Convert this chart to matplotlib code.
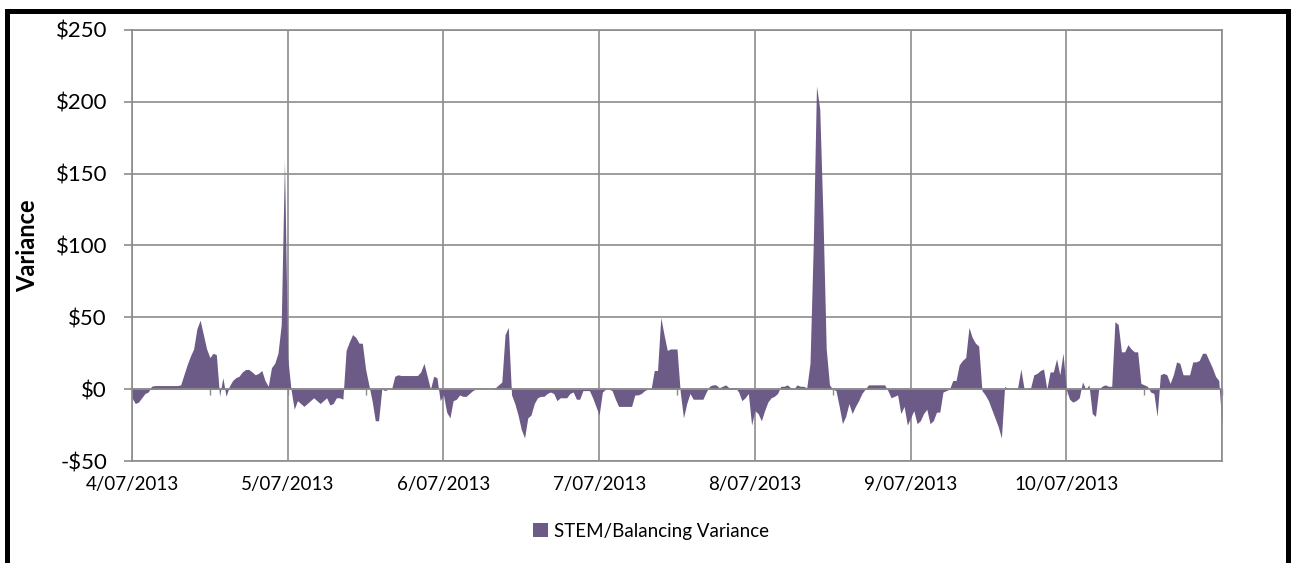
import numpy as np
import pandas as pd
import matplotlib
matplotlib.use("Agg")
import matplotlib.pyplot as plt
import matplotlib.dates as mdates
from matplotlib.ticker import FuncFormatter, MultipleLocator
from matplotlib.patches import Rectangle

plt.rcParams["font.family"] = ["Lato", "DejaVu Sans"]

# half-hourly variance ($), one list per day
day_0407 = [-6, -10, -9, -6, -3, -2, 2, 2.5, 2.5, 2.5, 2.5, 2.5, 2.5, 2.5, 2.5, 3,
            10, 17, 23, 28, 42, 48, 38, 28, 22, 25, 24, -5, 8, -5, 2, 6,
            8, 9, 12, 13.7, 13.7, 12, 10, 11, 13, 6, 2, 15, 18, 25, 45, 159]
day_0507 = [22, 0, -14, -8, -10, -12, -10, -8, -6, -8, -10, -8, -6, -11, -10, -6,
            -6, -7, 27, 33, 38, 36, 32, 32, 14, 3, -8, -22, -22, 0, -1, 0,
            0, 9, 10, 9.5, 9.5, 9.5, 9.5, 9.5, 9.5, 12, 18, 9, 0, 9, 8, -8]
day_0607 = [-4, -16, -20, -8, -7, -4, -5, -5, -3, -1, 0, 0, 0, 0, 0, 0,
            1, 3, 5, 38, 43, -4, -10, -18, -28, -34, -20, -18, -10, -6, -5, -5,
            -3, -2, -3, -8, -6, -6, -6, -3, -2, -7, -7, -1, -1, -1, -6, -12]
day_0707 = [-18, -2, 0, 0, -1, -7, -12, -12, -12, -12, -12, -4, -4, -3, -1, 0,
            0, 13, 13, 50, 38, 27, 28, 28, 28, -2, -20, -10, -3, -7, -7, -7,
            -7, -2, 2, 3, 3, 1, 2, 3, 1, 1, 1, -2, -8, -6, -3, -25]
day_0807 = [-15, -17, -22, -15, -9, -6, -5, -3, 2, 2, 3, 1, 0, 3, 2, 2,
            1, 18, 100, 211, 195, 120, 28, 3, 0, -1, -12, -24, -19, -10, -17, -12,
            -8, -3, 0, 3, 3, 3, 3, 3, 3, -1, -6, -5, -4, -17, -12, -25]
day_0907 = [-20, -15, -24, -22, -17, -14, -24, -22, -16, -16, -2, -1, 0, 6, 6, 17,
            20, 22, 43, 36, 32, 30, -1, -4, -8, -14, -20, -26, -34, 2, 0, 0,
            0, 1, 14, 0, 0, 1, 10, 11, 13, 14, 0, 12, 12, 21, 10, 25]
day_1007 = [0, -7, -9, -8, -6, 5, 0, 3, -17, -19, 0, 2, 3, 2, 2, 47,
            45, 26, 26, 31, 28, 26, 26, 4, 3, 2, -2, -3, -19, 10, 11, 10,
            4, 10, 19, 18, 10, 10, 10, 19, 19, 20, 25, 25, 20, 15, 9, 6]
last_value = [-26]

values = np.array(day_0407 + day_0507 + day_0607 + day_0707 + day_0807
                  + day_0907 + day_1007 + last_value, dtype=float)
times = pd.date_range("2013-07-04", periods=len(values), freq="30min")

FILL = "#6C5B87"
GRID = "#8C8C8C"

fig = plt.figure(figsize=(12.93, 5.63), dpi=100)
ax = fig.add_axes([132 / 1293, 1 - 461 / 563, 1090 / 1293, 431 / 563])

ax.fill_between(times, values, 0, color=FILL, linewidth=0, zorder=2,
                label="STEM/Balancing Variance")

ax.set_xlim(times[0], times[-1])
ax.set_ylim(-50, 250)
ax.yaxis.set_major_locator(MultipleLocator(50))
ax.yaxis.set_major_formatter(FuncFormatter(
    lambda v, _: f"-${abs(v):.0f}" if v < 0 else f"${v:.0f}"))

ax.set_axisbelow(True)
ax.grid(True, color=GRID, linewidth=1.2)

# horizontal axis crosses at $0, with small tick marks
ax.spines["bottom"].set_position(("data", 0))
ax.xaxis.set_major_locator(mdates.DayLocator())
ax.xaxis.set_minor_locator(mdates.HourLocator(byhour=[12]))
ax.tick_params(axis="x", which="both", direction="out", length=4,
               width=1.0, color=GRID, labelbottom=False)
for side in ["left", "right", "top", "bottom"]:
    ax.spines[side].set_color(GRID)
    ax.spines[side].set_linewidth(1.2)
    ax.spines[side].set_zorder(3)

ax.tick_params(axis="y", length=6, width=1.2, color=GRID, pad=12,
               labelsize=16)

# date labels along the bottom of the plot
sec = ax.secondary_xaxis(0.0)
sec.set_xticks(pd.date_range("2013-07-04", "2013-07-10", freq="D"))
sec.xaxis.set_major_formatter(mdates.DateFormatter("%-d/%m/%Y"))
sec.tick_params(length=0, pad=11, labelsize=13.5)
sec.spines["bottom"].set_color(GRID)
sec.spines["bottom"].set_linewidth(1.2)

ax.set_ylabel("Variance", fontsize=17, fontweight="bold", labelpad=12)

fig.legend(loc="center", bbox_to_anchor=(651 / 1293, 1 - 531 / 563),
           frameon=False, fontsize=13.5, handlelength=0.8, handleheight=0.8,
           handletextpad=0.35)

fig.add_artist(Rectangle((6.7 / 1293, -0.2), (1287.5 - 6.7) / 1293,
                         1.2 - 10.8 / 563, transform=fig.transFigure,
                         fill=False, edgecolor="black", linewidth=3.6))

fig.savefig("out.png", dpi=100)
